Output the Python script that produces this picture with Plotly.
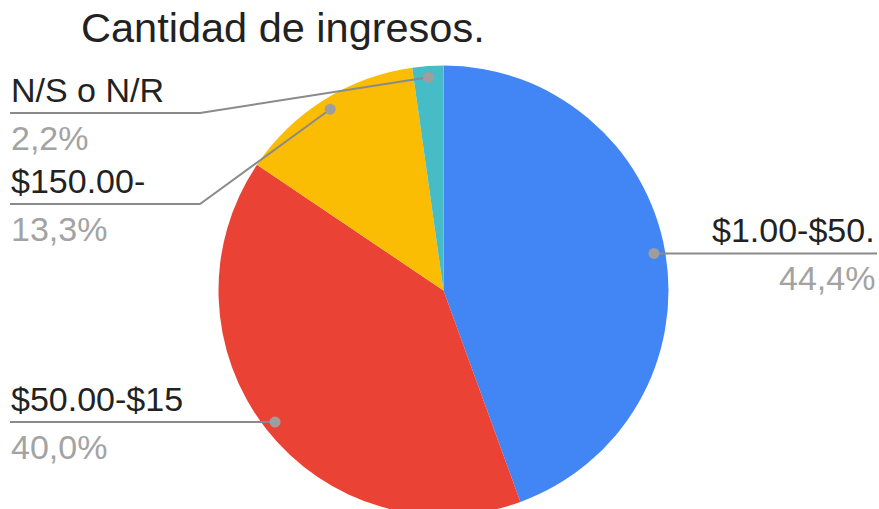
import math
import plotly.graph_objects as go

# ---- data ----
categories = ["$1.00-$50.", "$50.00-$15", "$150.00-", "N/S o N/R"]
values = [20, 18, 6, 1]
pct_labels = ["44,4%", "40,0%", "13,3%", "2,2%"]
colors = ["#4285F4", "#EA4335", "#FBBC04", "#46BDC6"]
title_text = "Cantidad de ingresos."

# ---- geometry (pixels) ----
W, H = 879, 516
CX, CY, R = 443.5, 290.5, 225.0
FONT = "'Liberation Sans', Arial, sans-serif"
LBL_SIZE = 34
PCT_SIZE = 34
TITLE_SIZE = 41.5
LINE_COL = "#8a8a8a"
DOT_COL = "#9e9e9e"
TXT_COL = "#222222"
PCT_COL = "#a3a3a3"


def px(x):
    return x / W


def py(y):
    return 1 - y / H


fig = go.Figure()
fig.add_trace(go.Pie(
    labels=categories, values=values, sort=False, direction="clockwise",
    rotation=0, marker=dict(colors=colors, line=dict(width=0)),
    textinfo="none", hoverinfo="label+percent", showlegend=False,
    domain=dict(x=[px(CX - R), px(CX + R)], y=[py(CY + R), py(CY - R)]),
))

# dot positions derived from the data (mid-angle of each slice)
total = sum(values)
dots = []
cum = 0
for v in values:
    th = 2 * math.pi * (cum + v / 2) / total
    cum += v
    dots.append((CX + 0.95 * R * math.sin(th), CY - 0.95 * R * math.cos(th)))

shapes = []
annotations = []

# (index, side, horizontal line y or None -> dot y)
layout_spec = [
    (0, "right", None),
    (1, "left", None),
    (2, "left", 204),
    (3, "left", 113),
]
for i, side, ly in layout_spec:
    dx, dy = dots[i]
    if ly is None:
        ly = dy
    if side == "right":
        pts = [(dx, dy), (877, ly)]
        tx, anchor = 877, "right"
    else:
        if abs(ly - dy) < 1:
            pts = [(dx, dy), (10, ly)]
        else:
            pts = [(dx, dy), (200, ly), (10, ly)]
        tx, anchor = 9, "left"
    path = "M " + " L ".join(f"{px(a)},{py(b)}" for a, b in pts)
    shapes.append(dict(type="path", path=path, xref="paper", yref="paper",
                       line=dict(color=LINE_COL, width=2), layer="above"))
    shapes.append(dict(type="circle", xref="paper", yref="paper",
                       xsizemode="pixel", ysizemode="pixel",
                       xanchor=px(dx), yanchor=py(dy), x0=-5.5, x1=5.5, y0=-5.5, y1=5.5,
                       fillcolor=DOT_COL, line=dict(width=0), layer="above"))
    annotations.append(dict(text=categories[i], x=px(tx), y=py(ly - 23), xref="paper", yref="paper",
                            xanchor=anchor, yanchor="middle", showarrow=False,
                            font=dict(family=FONT, size=LBL_SIZE, color=TXT_COL)))
    annotations.append(dict(text=pct_labels[i], x=px(tx), y=py(ly + 25), xref="paper", yref="paper",
                            xanchor=anchor, yanchor="middle", showarrow=False,
                            font=dict(family=FONT, size=PCT_SIZE, color=PCT_COL)))

annotations.append(dict(text=title_text, x=px(79), y=py(28), xref="paper", yref="paper",
                        xanchor="left", yanchor="middle", showarrow=False,
                        font=dict(family=FONT, size=TITLE_SIZE, color=TXT_COL)))

fig.update_layout(
    width=W, height=H, margin=dict(l=0, r=0, t=0, b=0),
    paper_bgcolor="white", plot_bgcolor="white",
    shapes=shapes, annotations=annotations,
)

fig.write_html(
    "out.html",
    config={"displayModeBar": False},
    post_script="document.body.style.margin='0';document.body.style.overflow='hidden';"
                "document.documentElement.style.overflow='hidden';",
)
